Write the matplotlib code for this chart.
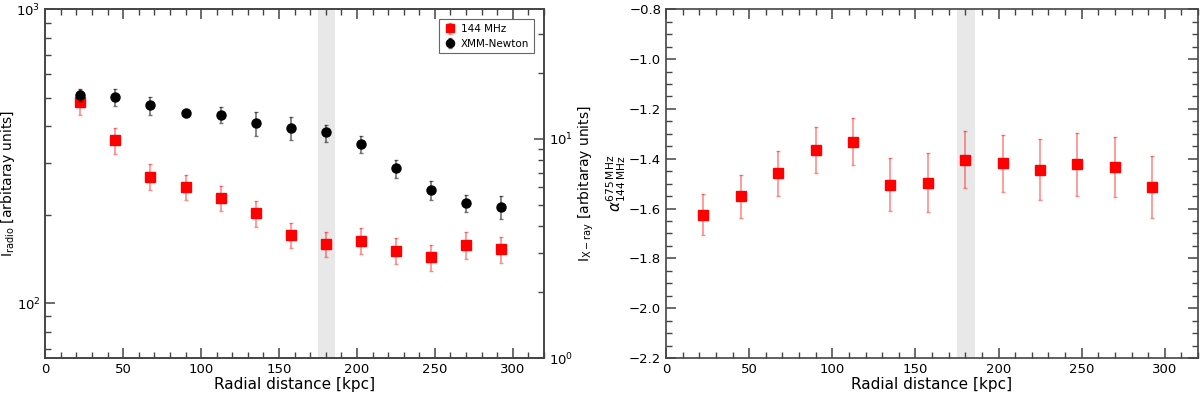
import matplotlib
matplotlib.use("Agg")
import matplotlib.pyplot as plt
from matplotlib.ticker import MultipleLocator

# radial bins [kpc]
r_kpc = [22.5, 45, 67.5, 90, 112.5, 135, 157.5, 180, 202.5, 225, 247.5, 270, 292.5]

# radio surface brightness at 144 MHz
radio = [484, 358, 269, 249, 228, 202, 170, 158.6, 163, 150, 143, 157, 152.5]
radio_hi = [533, 395, 297, 273, 251, 223, 187, 175, 180, 166, 157, 174, 168]
radio_lo = [435, 322, 243, 224, 205, 182, 154, 143, 147, 135.6, 128.5, 141.6, 137]

# X-ray surface brightness (XMM-Newton)
xray = [15.8, 15.5, 14.2, 13.1, 12.8, 11.8, 11.26, 10.7, 9.45, 7.34, 5.86, 5.12, 4.9]
xray_hi = [16.8, 16.8, 15.5, 13.6, 13.9, 13.2, 12.6, 11.6, 10.25, 8.0, 6.4, 5.52, 5.48]
xray_lo = [14.9, 14.1, 12.9, 12.55, 11.8, 10.35, 9.9, 9.7, 8.6, 6.63, 5.26, 4.66, 4.31]

# spectral index 144-675 MHz
alpha = [-1.624, -1.550, -1.458, -1.365, -1.332, -1.505, -1.497, -1.404, -1.419, -1.444, -1.423, -1.434, -1.513]
alpha_hi = [-1.541, -1.464, -1.367, -1.273, -1.238, -1.399, -1.378, -1.288, -1.304, -1.320, -1.296, -1.314, -1.387]
alpha_lo = [-1.706, -1.636, -1.549, -1.456, -1.424, -1.611, -1.615, -1.519, -1.534, -1.566, -1.548, -1.553, -1.639]

band = (175, 186)

def err(v, hi, lo):
    return [[a - b for a, b in zip(v, lo)], [b - a for a, b in zip(v, hi)]]

plt.rcParams["font.size"] = 9.5
W, H = 1200, 393
fig = plt.figure(figsize=(12, 3.93), dpi=100)
ax1 = fig.add_axes([45.3 / W, 35 / H, 498.7 / W, 348.7 / H])
ax3 = fig.add_axes([666 / W, 35 / H, 532 / W, 348.7 / H])

spine_col = "#444444"
ebar = dict(elinewidth=1.2, capsize=1.5, capthick=1, zorder=3)

def ticks(ax, **kw):
    ax.tick_params(which="both", direction="in", color=spine_col, labelsize=9.5, **kw)
    ax.tick_params(which="major", length=7.5, width=1.1)
    ax.tick_params(which="minor", length=4, width=1)

# ---- left panel
ax1.axvspan(*band, color="#e8e8e8", lw=0, zorder=0)
h1 = ax1.errorbar(r_kpc, radio, yerr=err(radio, radio_hi, radio_lo), fmt="s", color="red",
                  ms=7, ecolor=(1, 0, 0, 0.45), **ebar)
ax1.set_yscale("log")
ax1.set_ylim(65, 1000)
ax1.set_xlim(0, 320)
ax1.set_xlabel("Radial distance [kpc]", fontsize=11, labelpad=1)
ax1.set_ylabel(r"I$_{\rm radio}$ [arbitaray units]", fontsize=10)
ax1.yaxis.set_label_coords(-0.057, 0.5)

ax2 = ax1.twinx()
h2 = ax2.errorbar(r_kpc, xray, yerr=err(xray, xray_hi, xray_lo), fmt="o", color="black",
                  ms=6.5, ecolor=(0, 0, 0, 0.55), **ebar)
ax2.set_yscale("log")
ax2.set_ylim(1, 39)
ax2.set_ylabel(r"I$_{\rm X-ray}$ [arbitaray units]", fontsize=10)
ax2.yaxis.set_label_coords(1.066, 0.5)

leg = ax1.legend([h1, h2], ["144 MHz", "XMM-Newton"], loc="upper right", fontsize=7.5,
                 fancybox=False, edgecolor="#666666", framealpha=1, borderaxespad=0,
                 handlelength=1.2, handletextpad=0.5, borderpad=0.45, labelspacing=0.45,
                 markerscale=0.9, bbox_to_anchor=(0.98, 0.971))
leg.get_frame().set_linewidth(0.8)

ax1.xaxis.set_major_locator(MultipleLocator(50))
ax1.xaxis.set_minor_locator(MultipleLocator(10))
ticks(ax1, top=True, right=False)
ticks(ax2)

# ---- right panel
ax3.axvspan(*band, color="#e8e8e8", lw=0, zorder=0)
ax3.errorbar(r_kpc, alpha, yerr=err(alpha, alpha_hi, alpha_lo), fmt="s", color="red",
             ms=7, ecolor=(1, 0, 0, 0.45), **ebar)
ax3.set_xlim(0, 320)
ax3.set_ylim(-2.2, -0.8)
ax3.xaxis.set_major_locator(MultipleLocator(50))
ax3.xaxis.set_minor_locator(MultipleLocator(10))
ax3.yaxis.set_major_locator(MultipleLocator(0.2))
ax3.yaxis.set_minor_locator(MultipleLocator(0.05))
ticks(ax3, top=True, right=True)
ax3.set_xlabel("Radial distance [kpc]", fontsize=11, labelpad=1)
ax3.set_ylabel(r"$\alpha_{\rm 144\,MHz}^{\rm 675\,MHz}$", fontsize=11)
ax3.yaxis.set_label_coords(-0.071, 0.5)

for ax in (ax1, ax2, ax3):
    for s in ax.spines.values():
        s.set_color(spine_col)
        s.set_linewidth(1.2)

fig.savefig("out.png", dpi=100)
